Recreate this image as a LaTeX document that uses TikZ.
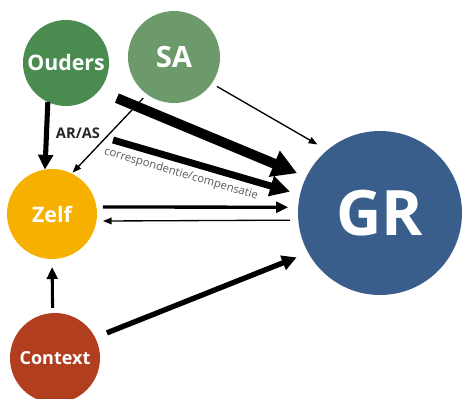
\documentclass[tikz,border=0pt]{standalone}
\usepackage{fontspec}
\setmainfont{Open Sans}
\usetikzlibrary{arrows.meta}

\definecolor{oudersgroen}{RGB}{74,139,80}
\definecolor{sagroen}{RGB}{108,154,106}
\definecolor{zelfgeel}{RGB}{246,177,0}
\definecolor{contextrood}{RGB}{177,63,31}
\definecolor{grblauw}{RGB}{58,94,140}

\begin{document}
\begin{tikzpicture}[x=0.75pt,y=-0.75pt,
  bol/.style={circle,inner sep=0pt,outer sep=0pt,text=white},
  dun/.style={line width=1pt,-{Triangle[length=6.5pt,width=5pt]}},
  middel/.style={line width=2.5pt,-{Triangle[length=9pt,width=8pt]}},
  dik/.style={line width=4pt,-{Triangle[length=11pt,width=11pt]}},
  extradik/.style={line width=5.2pt,-{Triangle[length=15pt,width=15pt]}},
  zwaarst/.style={line width=7.5pt,-{Triangle[length=18.5pt,width=20pt]}}]
\useasboundingbox (0,0) rectangle (465,399);

\node[bol,fill=oudersgroen,minimum size=64.5pt,font=\bfseries\fontsize{16}{16}\selectfont] (ouders) at (66,63) {Ouders};
\node[bol,fill=sagroen,minimum size=69pt,font=\bfseries\fontsize{22}{22}\selectfont] (sa) at (174,57) {SA};
\node[bol,fill=zelfgeel,minimum size=67.5pt,font=\bfseries\fontsize{16}{16}\selectfont] (zelf) at (52,214) {Zelf};
\node[bol,fill=contextrood,minimum size=67.5pt,font=\bfseries\fontsize{13.5}{13.5}\selectfont] (context) at (55,358) {Context};
\node[bol,fill=grblauw,minimum size=123pt,font=\bfseries\fontsize{47}{47}\selectfont] (gr) at (380,213) {GR};

\node[font=\bfseries\fontsize{11}{11}\selectfont,text=black!85] (aras) at (78,133) {AR/AS};
\node[rotate=-16.4,font=\fontsize{8.5}{8.5}\selectfont,text=black!65] (corrlabel) at (181,174) {correspondentie/compensatie};
\coordinate (corr) at (113,140);

\draw[dik,line width=3.8pt] (ouders.-115) -- (zelf.99);
\draw[dun,shorten <=4pt,shorten >=1pt] (sa.-126) -- (zelf.64);
\draw[zwaarst,shorten <=14.6pt,shorten >=7.5pt] (ouders.-40) -- (gr.154);
\draw[dun,shorten <=4.5pt,shorten >=8.6pt] (sa.-35) -- (gr.130);
\draw[extradik,shorten >=7.8pt] (corr) -- (gr.167);

\draw[middel,shorten <=4.9pt,shorten >=7.5pt] (zelf.9) -- (gr.176);
\draw[dun,shorten <=6.3pt,shorten >=4.9pt] (gr.185.6) -- (zelf.-9);

\draw[middel,line width=2.3pt,shorten <=3.8pt,shorten >=6pt] (context.93.8) -- (zelf.-90);
\draw[dik,shorten <=9.5pt,shorten >=9.4pt] (context.27) -- (gr.209.5);

\end{tikzpicture}
\end{document}
